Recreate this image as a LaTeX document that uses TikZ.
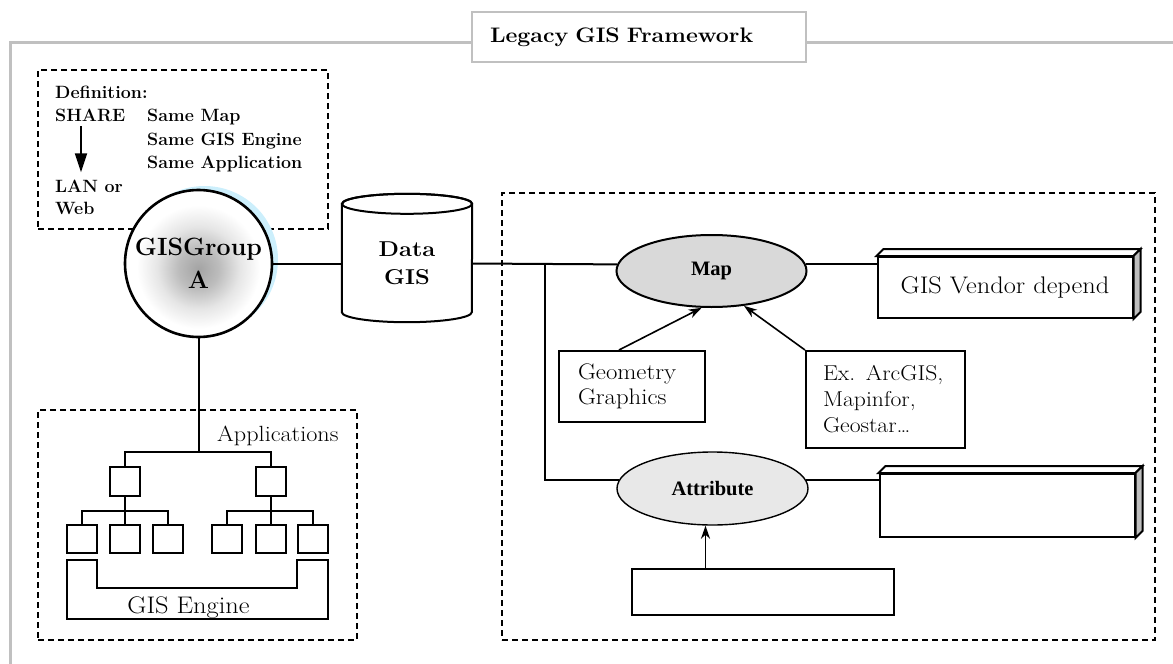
\documentclass[tikz,border=0pt]{standalone}
\usepackage{fontspec}
\newfontfamily\timesfont{Liberation Serif}
\newfontfamily\wideserif[FakeStretch=1.1]{Latin Modern Roman}
\usetikzlibrary{shapes.geometric,arrows.meta,calc}

% soft grey ball shading for the group circle
\pgfdeclareradialshading{groupshade}{\pgfpoint{0bp}{-2bp}}{%
  color(0bp)=(black!36); color(7bp)=(black!26); color(14bp)=(black!10);
  color(21bp)=(white); color(50bp)=(white)}

\definecolor{framegray}{RGB}{192,192,192}

\tikzset{
  line/.style={line width=2pt},
  dashbox/.style={draw, line width=1.8pt, dash pattern=on 6pt off 4pt, minimum width=#1},
  deftext/.style={inner sep=0pt, anchor=base west, font=\fontsize{17.8}{22}\selectfont\bfseries},
  plaintext/.style={inner sep=0pt, font=\wideserif\fontsize{22}{26}\selectfont},
  titlebox/.style={draw=framegray, line width=2.6pt, fill=white, minimum width=334pt,
    minimum height=50pt, text width=298pt, inner xsep=18pt, align=left,
    font=\wideserif\fontsize{21}{26}\selectfont\bfseries},
  groupball/.style={circle, draw, line width=2.6pt, shading=groupshade, minimum size=147pt,
    inner sep=0pt, align=center, font=\fontsize{25}{33}\selectfont\bfseries},
  oval/.style={ellipse, draw, inner sep=0pt, font=\timesfont\fontsize{20.5}{24}\selectfont\bfseries},
  textbox/.style={draw, line width=2pt, fill=white, inner xsep=19pt, inner ysep=0pt, align=left,
    font=\wideserif\fontsize{22.5}{25}\selectfont},
  frontbox/.style={draw, line width=2pt, fill=white, minimum width=255pt, inner sep=0pt,
    font=\wideserif\fontsize{24}{28}\selectfont},
  appbox/.style={draw, line width=2pt, fill=white, minimum width=30pt, inner sep=0pt},
  bigarrow/.style={line width=2pt, -{Triangle[length=19pt,width=12pt]}},
  thinarrow/.style={line width=1.6pt, -{Stealth[length=13pt,width=9pt,inset=4pt]}},
}

\begin{document}
\begin{tikzpicture}[x=1pt,y=-1pt]
\useasboundingbox (0,0) rectangle (1173,664);

% outer framework border, open towards the page edges
\begin{scope}
  \clip (0,0) rectangle (1173,664);
  \draw[draw=framegray, line width=3pt] (10,700) -- (10,42) -- (1200,42);
\end{scope}
\node[titlebox] (title) at (639,37) {Legacy GIS Framework};

% definition panel
\node[dashbox=290pt, minimum height=159pt] (defbox) at (183,149.5) {};
\node[deftext] (def) at (55,98) {Definition:};
\node[deftext] (share) at (55,121) {SHARE};
\node[deftext] (same1) at (147,121) {Same Map};
\node[deftext] (same2) at (147,145) {Same GIS Engine};
\node[deftext] (same3) at (147,168) {Same Application};
\node[deftext] (lan) at (55,192) {LAN or};
\node[deftext] (web) at (55,214) {Web};
\coordinate (ax) at (81,0);
\draw[bigarrow, shorten <=5pt, shorten >=7pt] (share.south -| ax) -- (lan.north -| ax);

% dashed panels
\node[dashbox=319pt, minimum height=230pt] (appsbox) at (197.5,525) {};
\node[dashbox=653pt, minimum height=447pt] (rbox) at (828.5,416.5) {};

% group circle with its cyan shadow
\node[circle, fill=cyan!20, minimum size=147pt, inner sep=0pt] (circshadow) at (204.5,259.5) {};
\node[groupball] (circ) at (198.5,263.5) {GISGroup\\A};

% data cylinder
\node[minimum width=130pt, minimum height=108pt, inner sep=0pt] (cyl) at (407,258) {};
\draw[line, fill=white] (cyl.north west) -- (cyl.south west)
  arc[start angle=180, end angle=360, x radius=65pt, y radius=10pt]
  -- (cyl.north east)
  arc[start angle=0, end angle=180, x radius=65pt, y radius=10pt] -- cycle;
\draw[line] (cyl.north) ellipse[x radius=65pt, y radius=10pt];
\node[inner sep=0pt, align=center, font=\wideserif\fontsize{21.5}{28}\selectfont\bfseries] (cyltext) at (407,263.5) {Data\\GIS};

% map and attribute branches
\node[oval, line width=2pt, fill=black!15, minimum width=190pt, minimum height=72pt] (map) at (711.5,271) {Map};
\node[oval, line width=1.4pt, fill=black!9, minimum width=191pt, minimum height=73pt] (attr) at (712.5,488.5) {Attribute};

\node[frontbox, minimum height=61pt] (vendor) at (1005,287.5) {GIS Vendor depend};
\node[frontbox, minimum height=63pt] (lowbox) at (1007,505.5) {};
\foreach \b in {vendor,lowbox}{
  \draw[line, fill=white] (\b.north west) -- ++(7,-7) -- ($(\b.north east)+(7,-7)$) -- (\b.north east) -- cycle;
  \draw[line, fill=black!25] (\b.north east) -- ++(7,-7) -- ($(\b.south east)+(7,-7)$) -- (\b.south east) -- cycle;
}

\node[textbox, minimum width=146pt, minimum height=71pt, text width=108pt] (geo) at (632,386.5) {Geometry\\Graphics};
\node[textbox, minimum width=159pt, minimum height=97pt, text width=125pt, inner xsep=17pt,
  font=\wideserif\fontsize{21.5}{26}\selectfont] (ex) at (885.5,399.5)
  {\mbox{Ex. ArcGIS,}\\\mbox{Mapinfor,}\\\mbox{Geostar…}};
\node[textbox, minimum width=262pt, minimum height=46pt] (bbox) at (763,592) {};

% connectors
\coordinate (jn) at (545,263.5);
\draw[line] (circ.east) -- (circ.east -| cyl.west);
\draw[line] (cyl.east |- circ.east) -- (map.176);
\draw[line] (jn) |- (attr.175);
\draw[line] (map.4) -- (map.4 -| vendor.west);
\draw[line] (attr.5) -- (attr.5 -| lowbox.west);
\draw[thinarrow] ([xshift=-13pt]geo.north) -- (map.255);
\draw[thinarrow] (ex.north west) -- (map.313);
\draw[thinarrow] ([xshift=-7pt]attr.south |- bbox.north) -- ([xshift=-7pt]attr.south);

% applications tree
\node[plaintext, anchor=base west] (appslabel) at (217,441) {Applications};
\node[appbox, minimum height=29pt] (a1) at (125,481.5) {};
\node[appbox, minimum height=29pt] (a2) at (270.5,481.5) {};
\foreach \n/\x in {b1/82,b2/125,b3/168,b4/227,b5/270.5,b6/313}{
  \node[appbox, minimum height=28pt] (\n) at (\x,539) {};
}
\coordinate (t1) at (198.5,452);
\draw[line] (circ.south) -- (t1);
\draw[line] (a1.north) |- (t1) -| (a2.north);
\draw[line] (a1.south) -- (b2.north);
\draw[line] (b1.north) |- ($(a1.south)!.5!(b2.north)$) -| (b3.north);
\draw[line] (a2.south) -- (b5.north);
\draw[line] (b4.north) |- ($(a2.south)!.5!(b5.north)$) -| (b6.north);

% GIS engine tray under the tree
\draw[line, fill=white] (67,560) -- (97,560) -- (97,588) -- (297,588) -- (297,560)
  -- (328,560) -- (328,619) -- (67,619) -- cycle;
\node[plaintext, anchor=base, font=\wideserif\fontsize{24}{28}\selectfont] (engine) at (188.5,613) {GIS Engine};
\end{tikzpicture}
\end{document}
